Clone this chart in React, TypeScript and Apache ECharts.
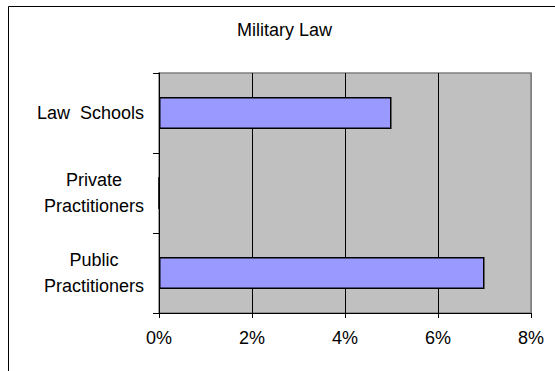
import React, { useEffect, useRef } from "react";
import * as echarts from "echarts";

const categories = ["Law  Schools", "Private\nPractitioners", "Public\nPractitioners"];
const values = [5, 0, 7];
const xTicks = [0, 2, 4, 6, 8];
const titleText = "Military Law";

const FONT = "'Liberation Sans', Arial, sans-serif";

export default function App() {
  const ref = useRef<HTMLDivElement>(null);
  useEffect(() => {
    if (!ref.current) return;
    const chart = echarts.init(ref.current, null, { renderer: "svg" });
    chart.setOption({
      animation: false,
      backgroundColor: "#ffffff",
      textStyle: { fontFamily: FONT },
      title: {
        text: titleText,
        left: 237,
        top: 21,
        padding: 0,
        textStyle: { fontFamily: FONT, fontSize: 18, fontWeight: "normal", color: "#000" },
      },
      graphic: [
        {
          type: "rect",
          shape: { x: 8.5, y: 6.5, width: 600, height: 400 },
          style: { fill: "none", stroke: "#000", lineWidth: 1 },
          silent: true,
          z: 100,
        },
      ],
      grid: {
        left: 159,
        right: 24,
        top: 73,
        bottom: 58,
        show: true,
        backgroundColor: "#C0C0C0",
        borderColor: "#808080",
        borderWidth: 1.5,
      },
      xAxis: {
        type: "value",
        min: xTicks[0],
        max: xTicks[xTicks.length - 1],
        interval: 2,
        axisLine: { show: true, lineStyle: { color: "#000", width: 1 } },
        axisTick: { show: true, length: 5, lineStyle: { color: "#000" } },
        axisLabel: {
          formatter: "{value}%",
          margin: 16,
          fontSize: 18,
          color: "#000",
          fontFamily: FONT,
        },
        splitLine: {
          show: true,
          lineStyle: { color: ["#000", "#000", "#000", "#000", "#808080"], width: 1 },
        },
      },
      yAxis: {
        type: "category",
        inverse: true,
        data: categories,
        axisLine: { show: true, lineStyle: { color: "#000", width: 1 } },
        axisTick: { show: true, length: 6, lineStyle: { color: "#000" } },
        axisLabel: {
          margin: 15,
          color: "#000",
          fontSize: 18,
          fontFamily: FONT,
          lineHeight: 26,
          formatter: (v: string) =>
            v
              .split("\n")
              .map((s) => "{c|" + s + "}")
              .join("\n"),
          rich: {
            c: { align: "center", fontSize: 18, lineHeight: 26, fontFamily: FONT, color: "#000" },
          },
        },
        splitLine: { show: false },
      },
      series: [
        {
          type: "bar",
          data: values,
          barWidth: "40%",
          itemStyle: { color: "#9999FF", borderColor: "#000", borderWidth: 1.5 },
        },
      ],
    });
    return () => chart.dispose();
  }, []);
  return (
    <div
      ref={ref}
      style={{ position: "fixed", left: 0, top: 0, width: 555, height: 371 }}
    />
  );
}
